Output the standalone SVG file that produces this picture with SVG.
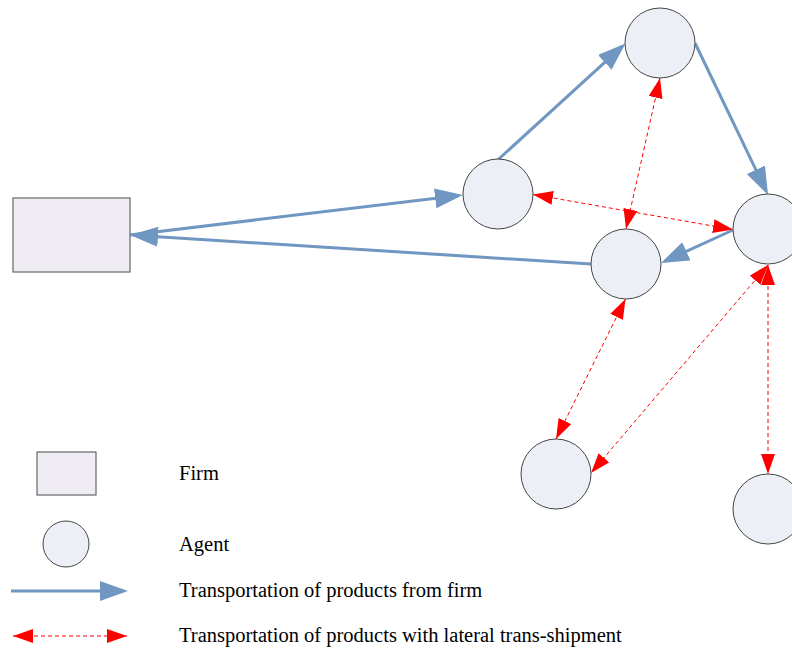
<svg xmlns="http://www.w3.org/2000/svg" width="792" height="648" viewBox="0 0 792 648">
  <style>
    .firm { fill: #EFEDF3; stroke: #666666; stroke-width: 1.2; }
    .agent { fill: #ECF0F6; stroke: #444444; stroke-width: 1; }
    .flow { stroke: #7096C2; stroke-width: 3; fill: none; marker-end: url(#blueHead); }
    .lat { stroke: #FF0000; stroke-width: 1; stroke-dasharray: 4 3; fill: none; marker-start: url(#redHead); marker-end: url(#redHead); }
    .lbl { font-family: "Liberation Serif", "Times New Roman", serif; font-size: 20.5px; fill: #000000; }
  </style>
  <defs>
    <marker id="blueHead" markerUnits="userSpaceOnUse" markerWidth="28" markerHeight="20" refX="24" refY="10" orient="auto">
      <path d="M0,0 L28,10 L0,20 z" fill="#7096C2"/>
    </marker>
    <marker id="redHead" markerUnits="userSpaceOnUse" markerWidth="20" markerHeight="14" refX="20" refY="7" orient="auto-start-reverse">
      <path d="M0,0 L20,7 L0,14 z" fill="#FF0000"/>
    </marker>
  </defs>

  <g id="connectors">
    <line class="flow" x1="130" y1="235" x2="459" y2="195.5"/>
    <line class="flow" x1="591" y1="264" x2="134" y2="235.3"/>
    <line class="flow" x1="497.7" y1="160" x2="622.5" y2="46.2"/>
    <line class="flow" x1="695" y1="43" x2="766.3" y2="191.4"/>
    <line class="flow" x1="733" y1="230" x2="664.6" y2="261.3"/>
    <line class="lat" x1="660" y1="78" x2="626" y2="229"/>
    <line class="lat" x1="533" y1="194.5" x2="733" y2="229.5"/>
    <line class="lat" x1="625.5" y1="299" x2="556" y2="439"/>
    <line class="lat" x1="768" y1="265" x2="591" y2="473"/>
    <line class="lat" x1="768" y1="265" x2="768" y2="474"/>
  </g>

  <g id="firm">
    <rect class="firm" x="13" y="198" width="117" height="74"/>
  </g>
  <g id="agentA"><circle class="agent" cx="660" cy="43" r="35"/></g>
  <g id="agentB"><circle class="agent" cx="498" cy="194" r="35"/></g>
  <g id="agentC"><circle class="agent" cx="768" cy="229" r="35"/></g>
  <g id="agentD"><circle class="agent" cx="626" cy="264" r="35"/></g>
  <g id="agentE"><circle class="agent" cx="556" cy="474" r="35"/></g>
  <g id="agentF"><circle class="agent" cx="768" cy="509" r="35"/></g>

  <g id="legend">
    <rect class="firm" x="37" y="452" width="59" height="43"/>
    <circle class="agent" cx="66" cy="544" r="23"/>
    <line class="flow" x1="11" y1="591" x2="124" y2="591"/>
    <line class="lat" x1="13" y1="636" x2="127" y2="636"/>
    <text class="lbl" x="179" y="480">Firm</text>
    <text class="lbl" x="179" y="551">Agent</text>
    <text class="lbl" x="179" y="597">Transportation of products from firm</text>
    <text class="lbl" x="179" y="642">Transportation of products with lateral trans-shipment</text>
  </g>
</svg>
